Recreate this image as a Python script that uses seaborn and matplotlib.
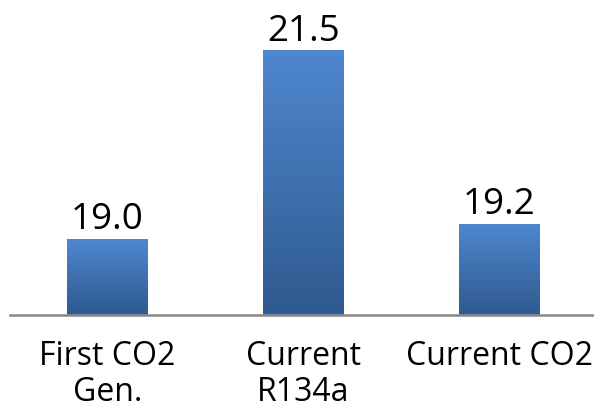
import numpy as np
import pandas as pd
import matplotlib
matplotlib.use("Agg")
import matplotlib.pyplot as plt
import seaborn as sns
from matplotlib.colors import LinearSegmentedColormap

categories = ["First CO2\nGen.", "Current\nR134a", "Current CO2"]
values = [19.0, 21.5, 19.2]
value_labels = ["19.0", "21.5", "19.2"]

sns.set_theme(style="white")
plt.rcParams['font.family'] = ['Open Sans', 'DejaVu Sans']

df = pd.DataFrame({"cat": categories, "val": values})

fig = plt.figure(figsize=(5.94, 4.07), dpi=100)
ax = fig.add_axes([9.5 / 594, (407 - 314.5) / 407, 588 / 594, (314.5 - 12.5) / 407])
sns.barplot(data=df, x="cat", y="val", color="#4a7ebf", width=0.413, ax=ax,
            saturation=1, edgecolor="none")
ax.set_ylim(18, 22)
ax.set_xlim(-0.5, 2.5)

cmap = LinearSegmentedColormap.from_list("g", ["#2f5a8f", "#4f87d0"])
grad = np.linspace(0, 1, 256).reshape(-1, 1)
for p in ax.patches:
    x0, y0 = p.get_x(), p.get_y()
    w, h = p.get_width(), p.get_height()
    im = ax.imshow(grad, cmap=cmap, aspect="auto", origin="lower",
                   extent=[x0, x0 + w, 18, y0 + h], zorder=p.get_zorder() + 0.1)
    im.set_clip_path(p)

for i, (v, lab) in enumerate(zip(values, value_labels)):
    ax.annotate(lab, (i, v), xytext=(0, 0.5), textcoords="offset points",
                ha="center", va="bottom", fontsize=26.5, color="black")

ax.set_xlabel("")
ax.set_ylabel("")
ax.set_yticks([])
ax.tick_params(axis="x", length=0, labelsize=23, pad=18.5, colors="black")
for lbl in ax.get_xticklabels():
    lbl.set_linespacing(1.12)
for s in ["top", "left", "right"]:
    ax.spines[s].set_visible(False)
ax.spines["bottom"].set_color("#868686")
ax.spines["bottom"].set_linewidth(1.8)

fig.savefig("out.png", dpi=100)
